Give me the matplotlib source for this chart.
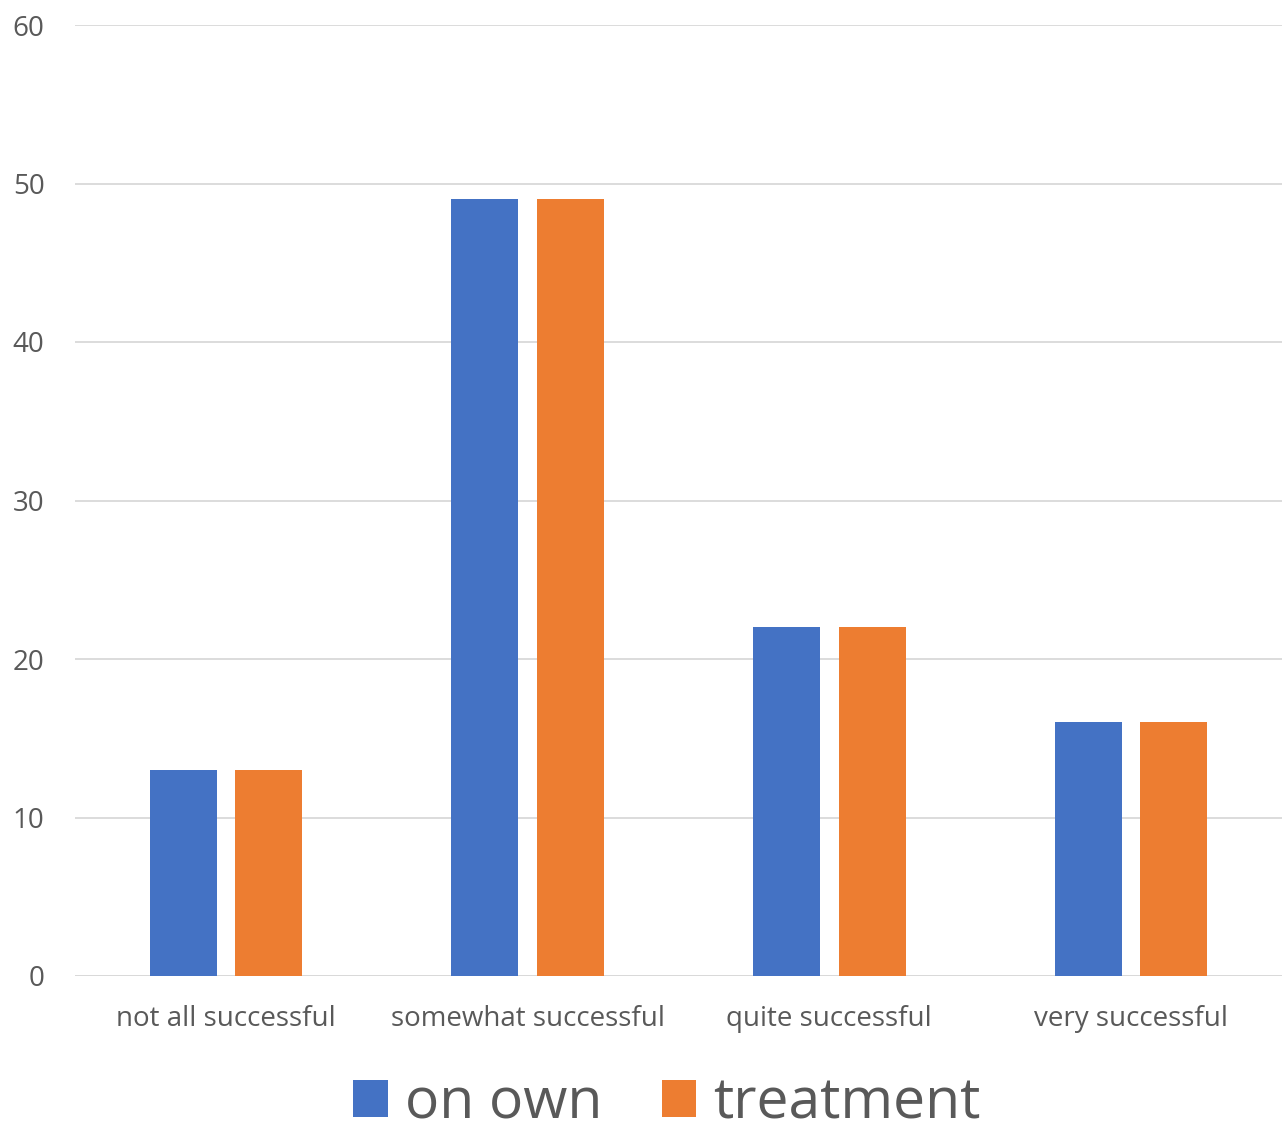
import matplotlib.pyplot as plt
import numpy as np

categories = ['not all successful', 'somewhat successful', 'quite successful', 'very successful']
on_own = [13, 49, 22, 16]
treatment = [13, 49, 22, 16]

plt.rcParams['font.family'] = ['Open Sans', 'DejaVu Sans']

fig = plt.figure(figsize=(12.82, 11.31), dpi=100)
ax = fig.add_axes([75 / 1282, 155 / 1131, 1207 / 1282, 951 / 1131])

x = np.arange(len(categories))
w = 0.222
ax.bar(x - 0.142, on_own, w, color='#4472C4', label='on own', zorder=3)
ax.bar(x + 0.142, treatment, w, color='#ED7D31', label='treatment', zorder=3)

ax.set_xlim(-0.5, 3.5)
ax.set_ylim(0, 60)
ax.set_yticks(range(0, 61, 10))
ax.set_xticks(x)
ax.set_xticklabels(categories)
ax.grid(axis='y', color='#D9D9D9', linewidth=1.3, zorder=0)
for s in ['top', 'right', 'left', 'bottom']:
    ax.spines[s].set_visible(False)
ax.axhline(0, color='#D9D9D9', linewidth=1.3, zorder=1)
ax.tick_params(axis='both', length=0, labelsize=20, colors='#595959')
ax.tick_params(axis='y', pad=22)
ax.tick_params(axis='x', pad=21)

leg = fig.legend(loc='center', bbox_to_anchor=(667 / 1282, 1 - 1104 / 1131), ncol=2,
                 frameon=False, fontsize=41, handlelength=0.6, handleheight=0.6,
                 columnspacing=1.05, handletextpad=0.3)
for t in leg.get_texts():
    t.set_color('#595959')

fig.savefig('out.png', dpi=100)
